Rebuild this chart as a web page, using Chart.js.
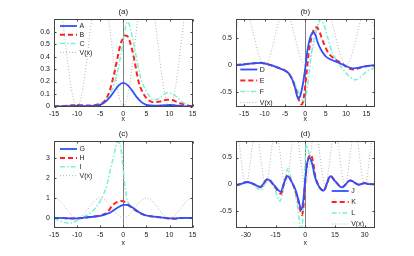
<!DOCTYPE html>
<html>
<head>
<meta charset="utf-8">
<script src="https://cdn.jsdelivr.net/npm/chart.js@4.4.1/dist/chart.umd.min.js"></script>
<style>
  html, body { margin: 0; padding: 0; background: #fff; }
  #wrap { position: relative; width: 414px; height: 256px; }
  .panel { position: absolute; width: 207px; height: 128px; }
</style>
</head>
<body>
<div id="wrap">
  <div class="panel" style="left:0;top:0"><canvas id="pa" width="207" height="128"></canvas></div>
  <div class="panel" style="left:207px;top:0"><canvas id="pb" width="207" height="128"></canvas></div>
  <div class="panel" style="left:0;top:128px"><canvas id="pc" width="207" height="128"></canvas></div>
  <div class="panel" style="left:207px;top:128px"><canvas id="pd" width="207" height="128"></canvas></div>
</div>
<script>
// ---- data ----

// (a)
const xA = [-15,-12,-10,-8,-6,-5,-4,-3,-2,-1,0,1,2,3,4,5,6,7,8,9,10,11,12,13,15];
const yA = [0,0.002,0.005,0.003,0.006,0.013,0.033,0.07,0.12,0.17,0.19,0.17,0.123,0.071,0.033,0.013,0.008,0.006,0.008,0.01,0.012,0.01,0.006,0.003,0];
const xB = [-15,-13,-11,-10,-9,-7,-6,-5,-4,-3,-2.4,-2,-1.2,-0.6,0,0.5,1,1.5,2.25,3.3,4.4,5.5,6.5,8,9.5,10.5,12,13.5,15];
const yB = [0.001,0.004,0.01,0.012,0.01,0.008,0.012,0.022,0.045,0.12,0.2,0.26,0.4,0.5,0.55,0.57,0.56,0.51,0.4,0.2,0.1,0.05,0.035,0.04,0.055,0.053,0.03,0.01,0.003];
const xC = [-15,-12,-10,-8,-6,-5,-4,-3,-2,-1,-0.5,0,0.5,1,1.5,2,2.8,3.5,4,5,5.5,6.5,7.5,8.5,9.5,10.5,11.5,12.5,13.5,15];
const yC = [0.003,0.008,0.01,0.007,0.01,0.02,0.04,0.09,0.18,0.32,0.42,0.53,0.64,0.68,0.63,0.55,0.4,0.27,0.2,0.12,0.09,0.055,0.06,0.09,0.11,0.105,0.08,0.045,0.02,0.005];

// (b)
const xD = [-17,-15,-13,-11,-10,-9,-8,-7,-6,-5,-4,-3,-2.5,-2,-1.7,-1.2,-0.6,0,0.5,1,1.5,2,2.5,3,4,5,6,8,10,11,12,13,15,17];
const yD = [0,0.01,0.03,0.04,0.03,0.01,-0.01,-0.04,-0.07,-0.1,-0.16,-0.3,-0.42,-0.57,-0.61,-0.55,-0.35,-0.05,0.25,0.45,0.56,0.6,0.55,0.42,0.26,0.16,0.11,0.05,-0.02,-0.05,-0.06,-0.05,-0.02,0];
const xE = [-17,-13,-11,-9,-7,-5,-4,-3,-2,-1.5,-1,-0.6,-0.2,0.3,0.8,1.5,2.2,2.8,3.5,4.5,5.5,7,9,10,11,12,13,15,17];
const yE = [0,0.03,0.04,0.01,-0.04,-0.1,-0.16,-0.3,-0.52,-0.65,-0.72,-0.68,-0.5,-0.15,0.2,0.5,0.66,0.69,0.6,0.4,0.24,0.12,0.03,-0.03,-0.07,-0.08,-0.06,-0.02,-0.01];
const xF = [-17,-13,-11,-9,-7,-5,-4,-3,-2,-1,-0.3,0.3,1,1.5,2.2,3,3.8,4.5,5.5,6.5,8,9.5,11,12.3,13.5,15,17];
const yF = [0,0.03,0.04,0.01,-0.04,-0.09,-0.15,-0.27,-0.43,-0.6,-0.66,-0.5,-0.1,0.2,0.5,0.72,0.83,0.75,0.5,0.25,0.05,-0.1,-0.22,-0.27,-0.22,-0.12,-0.05];

// (c)
const xG = [-15,-13,-11,-9,-8,-6,-5,-4,-3,-2,-1,0,0.5,1,2,3,4,5,6,8,10,11,13,15];
const yG = [0,-0.01,-0.03,-0.01,0.02,0.07,0.1,0.16,0.25,0.4,0.55,0.65,0.66,0.64,0.52,0.35,0.2,0.12,0.08,0.03,-0.02,-0.03,0,0];
const xH = [-15,-13,-11,-9,-8,-6,-5,-4,-3,-2.5,-2,-1.5,-1,-0.5,0,0.5,1,2,3,4,5,6,8,10,11,13,15];
const yH = [0,-0.01,-0.03,-0.01,0.02,0.08,0.12,0.2,0.42,0.6,0.7,0.78,0.82,0.85,0.84,0.77,0.66,0.5,0.33,0.2,0.12,0.08,0.03,-0.03,-0.04,0,0];
const xI = [-15,-14,-13,-12,-11,-10,-9,-8,-7,-6,-5,-4.3,-3.5,-2.9,-2.2,-1.6,-1.2,-0.8,-0.4,0,0.4,0.8,1.5,2,3,4,5,6,8,10,12,13,15];
const yI = [-0.03,-0.12,-0.22,-0.26,-0.24,-0.12,0.02,0.12,0.28,0.5,0.85,1.17,1.7,2.35,3.0,3.6,3.83,3.75,3.3,2.4,1.5,0.95,0.62,0.5,0.33,0.2,0.12,0.08,0.03,-0.03,-0.03,-0.01,0];

// (d)
const xJ = [-35,-32,-29.5,-26,-22.8,-19,-15.5,-12.5,-10.5,-9,-7,-5,-3.5,-2,-1,0,1,2.3,3.5,5,7,9.3,11,12.6,15,18.5,22.7,27,30,32,35];
const yJ = [-0.02,0.01,0.04,0,-0.05,0.09,-0.03,-0.14,0.05,0.15,0.05,-0.1,-0.29,-0.48,-0.3,0.1,0.4,0.49,0.38,0.12,-0.05,-0.12,0.02,0.15,0.06,-0.06,0.07,-0.01,0.02,0,0];
const xK = [-35,-32,-29.5,-26,-22.8,-19,-15.5,-12.3,-10.5,-9,-7,-5,-3.5,-2.5,-1.7,-1,0,1,2.8,4,5,7,9.3,11,12.6,15,18.5,22.7,27,30,32,35];
const yK = [-0.02,0.01,0.04,0,-0.06,0.1,-0.04,-0.18,0.05,0.17,0.05,-0.12,-0.33,-0.5,-0.58,-0.45,0.05,0.4,0.55,0.4,0.16,-0.05,-0.13,0.02,0.16,0.06,-0.06,0.07,-0.01,0.02,0,0];
const xL = [-35,-32,-29.5,-26,-22.5,-19,-15.5,-12.9,-10.5,-8.7,-7,-5.5,-4.2,-3.3,-2.5,-1.6,-0.8,0,0.5,1.2,2.5,3.5,5,7,9.3,11,12.8,15,18.5,22.7,27,30,35];
const yL = [-0.03,0,0.03,-0.02,-0.11,0.07,-0.08,-0.32,0,0.3,0.08,-0.12,-0.35,-0.6,-0.85,-0.8,-0.3,0.45,0.74,0.68,0.48,0.32,0.12,-0.06,-0.12,0.02,0.13,0.05,-0.06,0.06,-0.01,0.02,0];

// potential V(x), same in every panel
const vX = [-35,-34,-33,-32,-31,-30,-29,-28,-27,-26,-25,-24,-23,-22,-21,-20,-19,-18,-17,-16,
  -15,-14,-13,-12,-11,-10,-9,-8,-7,-6,-5,-4,-3,-2,-1,0,1,2,3,4,5,6,7,8,9,10,11,12,13,14,
  15,16,17,18,19,20,21,22,23,24,25,26,27,28,29,30,31,32,33,34,35];
const vY = [1,0.905,0.655,0.345,0.095,0,0.095,0.345,0.655,0.905,1,0.905,0.655,0.345,0.095,0,0.095,0.345,0.655,0.905,
  1,0.905,0.655,0.345,0.095,0,0.095,0.345,0.655,0.905,1,0.905,0.655,0.345,0.095,0,0.095,0.345,0.655,0.905,
  1,0.905,0.655,0.345,0.095,0,0.095,0.345,0.655,0.905,1,0.905,0.655,0.345,0.095,0,0.095,0.345,0.655,0.905,
  1,0.905,0.655,0.345,0.095,0,0.095,0.345,0.655,0.905,1];

// ticks
const xTicks15 = [-15,-10,-5,0,5,10,15];
const xTicks30 = [-30,-15,0,15,30];
const yTicksA = [0,0.1,0.2,0.3,0.4,0.5,0.6];
const yTicksHalf = [-0.5,0,0.5];
const yTicksC = [0,1,2,3];

// ---- styles ----
const FONT = "'Liberation Sans', Arial, Helvetica, sans-serif";
const TXT = '#222';
const STYLES = {
  solid:   { color: '#3050ff', width: 1.8, dash: [] },
  dashed:  { color: '#ff2020', width: 2,   dash: [5, 3] },
  dashdot: { color: '#78f2d6', width: 1.5, dash: [5, 2, 1.5, 2] },
  dotted:  { color: '#b4b4b4', width: 1,   dash: [1, 2] }
};

function series(label, xs, ys, kind) {
  const s = STYLES[kind];
  return {
    label,
    data: xs.map((x, i) => ({ x, y: ys[i] })),
    borderColor: s.color,
    borderWidth: s.width,
    borderDash: s.dash,
    pointRadius: 0,
    fill: false,
    cubicInterpolationMode: 'monotone'
  };
}

function potential(xmin, xmax) {
  const xs = [], ys = [];
  vX.forEach((x, i) => { if (x >= xmin - 1 && x <= xmax + 1) { xs.push(x); ys.push(vY[i]); } });
  return series('V(x)', xs, ys, 'dotted');
}

// zero line, box, inward ticks and panel title like matlab
const framePlugin = {
  id: 'frame',
  beforeDatasetsDraw(chart) {
    const { ctx, chartArea: a, scales: { x } } = chart;
    const px = Math.round(x.getPixelForValue(0)) + 0.5;
    ctx.save();
    ctx.strokeStyle = '#808080';
    ctx.lineWidth = 1;
    ctx.beginPath();
    ctx.moveTo(px, a.top);
    ctx.lineTo(px, a.bottom);
    ctx.stroke();
    ctx.restore();
  },
  afterDraw(chart, args, opts) {
    const { ctx, chartArea: a, scales: { x, y } } = chart;
    const l = Math.round(a.left) + 0.5, r = Math.round(a.right) - 0.5;
    const t = Math.round(a.top) + 0.5, b = Math.round(a.bottom) - 0.5;
    ctx.save();
    ctx.strokeStyle = '#444';
    ctx.lineWidth = 1;
    ctx.strokeRect(l, t, r - l, b - t);
    ctx.beginPath();
    x.ticks.forEach(tk => {
      const p = Math.round(x.getPixelForValue(tk.value)) + 0.5;
      ctx.moveTo(p, b); ctx.lineTo(p, b - 2);
      ctx.moveTo(p, t); ctx.lineTo(p, t + 2);
    });
    y.ticks.forEach(tk => {
      const p = Math.round(y.getPixelForValue(tk.value)) + 0.5;
      ctx.moveTo(l, p); ctx.lineTo(l + 2, p);
      ctx.moveTo(r, p); ctx.lineTo(r - 2, p);
    });
    ctx.stroke();
    // title centred over the axes
    ctx.fillStyle = TXT;
    ctx.font = '8px ' + FONT;
    ctx.textAlign = 'center';
    ctx.textBaseline = 'middle';
    ctx.fillText(opts.text, (a.left + a.right) / 2, opts.y);
    ctx.restore();
  }
};

// legend drawn inside the axes, no box
const inLegend = {
  id: 'inlegend',
  afterDatasetsDraw(chart, args, opts) {
    const { ctx, chartArea: a } = chart;
    ctx.save();
    ctx.font = '7px ' + FONT;
    ctx.textBaseline = 'middle';
    chart.data.datasets.forEach((ds, i) => {
      const yy = a.top + opts.y + i * opts.dy;
      const x0 = a.left + opts.x;
      ctx.strokeStyle = ds.borderColor;
      ctx.lineWidth = ds.borderWidth;
      ctx.setLineDash(ds.borderDash);
      ctx.beginPath();
      ctx.moveTo(x0, yy);
      ctx.lineTo(x0 + 17, yy);
      ctx.stroke();
      ctx.setLineDash([]);
      ctx.fillStyle = TXT;
      ctx.fillText(ds.label, x0 + 19.5, yy + 0.5);
    });
    ctx.restore();
  }
};

const panels = [
  { id: 'pa', title: '(a)', titleY: 12, xr: [-15, 15], yr: [0, 0.7], xt: xTicks15, yt: yTicksA,
    yW: 54, right: 14.4, top: 19.2, xHt: 21.5, xlPad: 4.8,
    legend: { x: 6, y: 6.8, dy: 8.8 },
    lines: [series('A', xA, yA, 'solid'), series('B', xB, yB, 'dashed'), series('C', xC, yC, 'dashdot')] },
  { id: 'pb', title: '(b)', titleY: 12, xr: [-17, 17], yr: [-0.755, 0.835], xt: xTicks15, yt: yTicksHalf,
    yW: 29, right: 39.4, top: 19.2, xHt: 21.5, xlPad: 4.8,
    legend: { x: 4.3, y: 50.3, dy: 11 },
    lines: [series('D', xD, yD, 'solid'), series('E', xE, yE, 'dashed'), series('F', xF, yF, 'dashdot')] },
  { id: 'pc', title: '(c)', titleY: 6, xr: [-15, 15], yr: [-0.5, 3.9], xt: xTicks15, yt: yTicksC,
    yW: 54, right: 14.4, top: 12.5, xHt: 28.2, xlPad: 8.8,
    legend: { x: 6, y: 8.5, dy: 8.9 },
    lines: [series('G', xG, yG, 'solid'), series('H', xH, yH, 'dashed'), series('I', xI, yI, 'dashdot')] },
  { id: 'pd', title: '(d)', titleY: 6, xr: [-35, 35], yr: [-0.82, 0.82], xt: xTicks30, yt: yTicksHalf,
    yW: 29, right: 39.4, top: 12.5, xHt: 28.2, xlPad: 8.8,
    legend: { x: 95.7, y: 50.5, dy: 11 },
    lines: [series('J', xJ, yJ, 'solid'), series('K', xK, yK, 'dashed'), series('L', xL, yL, 'dashdot')] }
];

panels.forEach(p => {
  const tickFont = { family: FONT, size: 7 };
  new Chart(document.getElementById(p.id), {
    type: 'line',
    data: { datasets: [...p.lines, potential(p.xr[0], p.xr[1])] },
    options: {
      responsive: false,
      animation: false,
      layout: { padding: { left: 0, right: p.right, top: p.top, bottom: 0 } },
      plugins: {
        legend: { display: false },
        tooltip: { enabled: false },
        title: { display: false },
        frame: { text: p.title, y: p.titleY },
        inlegend: p.legend
      },
      scales: {
        x: {
          type: 'linear', min: p.xr[0], max: p.xr[1],
          grid: { display: false, drawTicks: false }, border: { display: false },
          ticks: { font: tickFont, color: TXT, padding: 3, autoSkip: false, maxRotation: 0,
                   callback: v => String(v) },
          afterBuildTicks: s => { s.ticks = p.xt.map(v => ({ value: v })); },
          afterFit: s => { s.height = p.xHt; },
          title: { display: true, text: 'x', color: TXT,
                   font: { family: FONT, size: 7, lineHeight: 1.2 },
                   padding: { top: 0, bottom: p.xlPad } }
        },
        y: {
          type: 'linear', min: p.yr[0], max: p.yr[1],
          grid: { display: false, drawTicks: false }, border: { display: false },
          ticks: { font: tickFont, color: TXT, padding: 4, autoSkip: false,
                   callback: v => String(v) },
          afterBuildTicks: s => { s.ticks = p.yt.map(v => ({ value: v })); },
          afterFit: s => { s.width = p.yW; }
        }
      }
    },
    plugins: [framePlugin, inLegend]
  });
});
</script>
</body>
</html>
